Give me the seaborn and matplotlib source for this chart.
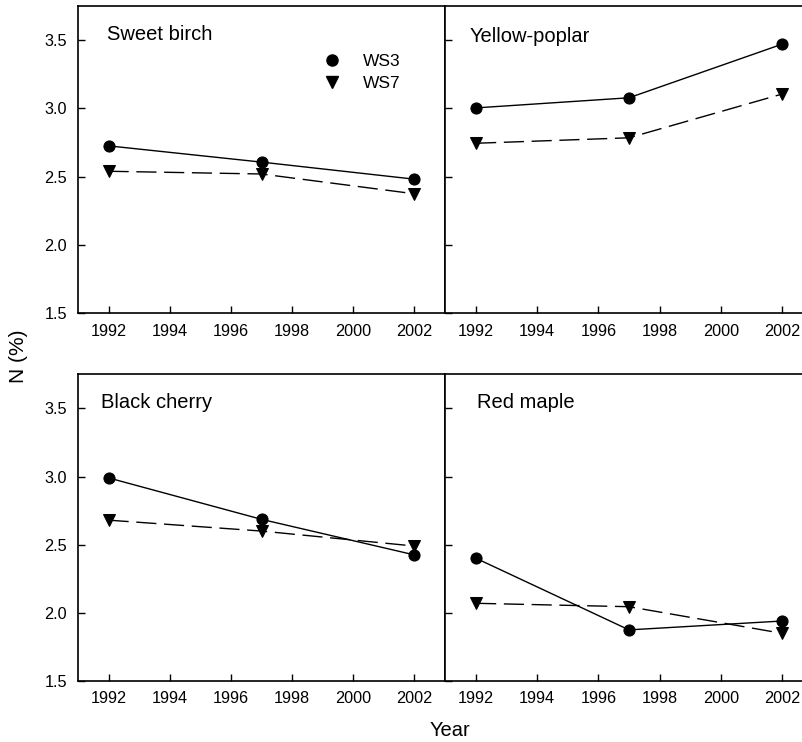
import matplotlib
matplotlib.use("Agg")
import matplotlib.pyplot as plt
import seaborn as sns
import pandas as pd
from matplotlib.lines import Line2D

sns.set_theme(style="ticks")
plt.rcParams['font.family'] = ['Liberation Sans', 'DejaVu Sans']
plt.rcParams['text.color'] = 'black'
plt.rcParams['xtick.color'] = 'black'
plt.rcParams['ytick.color'] = 'black'
plt.rcParams['axes.labelcolor'] = 'black'

years = [1992, 1997, 2002]
species = ["Sweet birch", "Yellow-poplar", "Black cherry", "Red maple"]
ws3 = {
    "Sweet birch": [2.726, 2.607, 2.482],
    "Yellow-poplar": [3.004, 3.078, 3.47],
    "Black cherry": [2.99, 2.686, 2.425],
    "Red maple": [2.40, 1.875, 1.94],
}
ws7 = {
    "Sweet birch": [2.54, 2.52, 2.375],
    "Yellow-poplar": [2.745, 2.785, 3.105],
    "Black cherry": [2.68, 2.60, 2.49],
    "Red maple": [2.07, 2.045, 1.85],
}
xticks = [1992, 1994, 1996, 1998, 2000, 2002]
yticks = [1.5, 2.0, 2.5, 3.0, 3.5]

rows = []
for sp in species:
    for yr, v in zip(years, ws3[sp]):
        rows.append((sp, "WS3", yr, v))
    for yr, v in zip(years, ws7[sp]):
        rows.append((sp, "WS7", yr, v))
df = pd.DataFrame(rows, columns=["Species", "Site", "Year", "N"])

fig = plt.figure(figsize=(8.03, 7.42), dpi=100)
W, H = 803, 742
pw = 367 / W
positions = {
    "Sweet birch": (78 / W, 1 - 313.3 / H, pw, 307.3 / H),
    "Yellow-poplar": (445.5 / W, 1 - 313.3 / H, pw, 307.3 / H),
    "Black cherry": (78 / W, 1 - 681 / H, pw, 306.7 / H),
    "Red maple": (445.5 / W, 1 - 681 / H, pw, 306.7 / H),
}
title_pos = {
    "Sweet birch": (0.078, 0.906),
    "Yellow-poplar": (0.065, 0.902),
    "Black cherry": (0.064, 0.907),
    "Red maple": (0.085, 0.907),
}

for i, sp in enumerate(species):
    ax = fig.add_axes(positions[sp])
    sub = df[df.Species == sp]
    sns.lineplot(data=sub, x="Year", y="N", style="Site",
                 markers={"WS3": "o", "WS7": "v"},
                 dashes={"WS3": "", "WS7": (14.5, 5.5)},
                 color="black", markersize=8, markeredgecolor="black",
                 linewidth=1.0, legend=False, ax=ax)
    ax.set_xlim(1991, 2003)
    ax.set_ylim(1.5, 3.75)
    ax.set_xticks(xticks)
    ax.set_yticks(yticks)
    ax.tick_params(direction="in", length=5, width=1, colors="black",
                   labelsize=11.7)
    ax.tick_params(axis="x", pad=7.5)
    ax.tick_params(axis="y", pad=8)
    if i % 2 == 1:
        ax.set_yticklabels([])
    else:
        ax.set_yticklabels([f"{v:.1f}" for v in yticks])
    ax.set_xlabel("")
    ax.set_ylabel("")
    for s in ax.spines.values():
        s.set_linewidth(1.2)
        s.set_color("black")
    ax.text(title_pos[sp][0], title_pos[sp][1], sp, transform=ax.transAxes,
            fontsize=14.5, va="center", ha="left", color="black")
    if i == 0:
        handles = [Line2D([], [], color="black", marker="o", linestyle="none", markersize=8),
                   Line2D([], [], color="black", marker="v", linestyle="none", markersize=8)]
        ax.legend(handles, ["WS3", "WS7"], loc="upper left",
                  bbox_to_anchor=(0.65, 0.845), frameon=False, fontsize=12.5,
                  handlelength=1.75, handletextpad=0.9, labelspacing=0.4,
                  borderaxespad=0, borderpad=0)

fig.text(19 / W, 1 - 356.5 / H, "N (%)", rotation=90, ha="center", va="center", fontsize=15)
fig.text(449.5 / W, 1 - 731 / H, "Year", ha="center", va="center", fontsize=14.5)

fig.savefig("out.png", dpi=100)
